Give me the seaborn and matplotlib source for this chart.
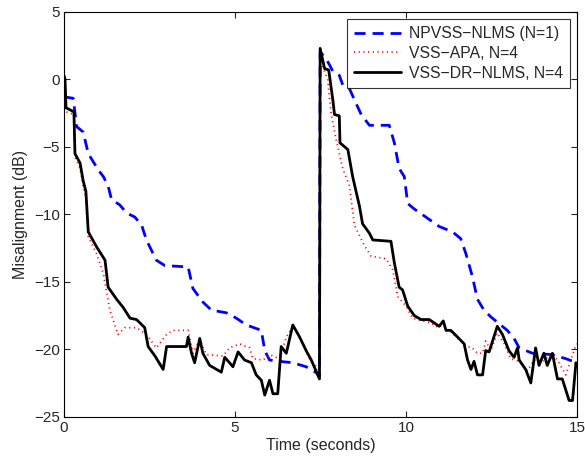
import numpy as np
import pandas as pd
import seaborn as sns
import matplotlib.pyplot as plt

# values (time in s, misalignment in dB)
npvss_t = [0.0, 0.03, 0.27, 0.37, 0.56, 0.71, 1.0, 1.15, 1.29, 1.39, 1.63, 1.83, 2.07, 2.27, 2.41,
           2.70, 2.95, 3.63, 3.77, 4.06, 4.31, 4.75, 5.04, 5.33, 5.77, 5.87, 6.01, 6.30, 6.69, 7.08,
           7.42, 7.47, 7.49, 7.62, 7.76, 7.86, 8.05, 8.15, 8.35, 8.49, 8.69, 8.93, 9.51, 9.66, 9.80,
           9.95, 10.05, 10.24, 10.58, 10.97, 11.36, 11.60, 11.75, 11.94, 12.09, 12.28, 12.48, 12.72,
           12.96, 13.16, 13.31, 13.70, 14.28, 14.67, 15.0]
npvss_db = [-1.2, -1.3, -1.4, -3.5, -3.9, -5.5, -6.7, -7.2, -7.9, -8.9, -9.3, -9.9, -10.2, -10.8, -11.9,
            -13.4, -13.8, -13.9, -15.5, -16.5, -17.1, -17.3, -17.7, -18.2, -18.6, -20.1, -20.8, -20.9,
            -21.0, -21.3, -21.8, -22.0, 2.0, 1.7, 1.1, 0.6, 0.3, -0.4, -0.7, -1.5, -2.6, -3.4, -3.4, -4.7,
            -6.6, -7.2, -9.2, -9.6, -10.2, -10.9, -11.3, -11.8, -12.9, -14.6, -16.3, -17.1, -17.6, -18.1,
            -18.6, -19.2, -19.9, -20.3, -20.4, -20.7, -21.0]

apa_t = [0.0, 0.06, 0.30, 0.33, 0.47, 0.56, 0.64, 0.71, 0.95, 1.15, 1.34, 1.58, 1.78, 2.12, 2.41,
         2.70, 3.0, 3.19, 3.63, 3.77, 3.97, 4.16, 4.65, 4.84, 5.14, 5.43, 5.52, 5.82, 6.01, 6.30,
         6.50, 6.69, 6.94, 7.18, 7.42, 7.47, 7.49, 7.57, 7.71, 7.81, 7.96, 8.15, 8.35, 8.49, 8.78,
         8.98, 9.42, 9.61, 9.76, 10.0, 10.19, 10.49, 10.68, 10.97, 11.09, 11.17, 11.31, 11.51, 11.70,
         11.80, 11.94, 12.09, 12.24, 12.33, 12.48, 12.67, 12.87, 13.06, 13.31, 13.55, 13.74, 13.94,
         14.28, 14.47, 14.67, 14.81, 14.94, 15.0]
apa_db = [0.0, -2.4, -2.6, -5.8, -6.6, -7.9, -8.8, -11.7, -12.9, -14.4, -17.1, -18.9, -18.4, -18.4,
          -18.9, -19.9, -18.9, -18.6, -18.6, -20.3, -19.3, -20.4, -20.5, -19.9, -19.6, -19.9, -20.7,
          -20.8, -20.4, -20.7, -19.1, -18.3, -19.3, -20.7, -21.4, -21.6, 2.3, 0.9, 0.0, -2.5, -4.5,
          -6.6, -7.9, -10.8, -12.3, -13.1, -13.3, -14.1, -16.1, -16.8, -17.7, -17.9, -18.0, -18.4,
          -18.0, -18.6, -18.7, -19.2, -19.6, -19.8, -19.9, -20.3, -20.3, -19.4, -20.1, -18.8, -19.6,
          -20.7, -20.9, -21.6, -20.8, -21.0, -20.3, -21.0, -21.9, -20.9, -19.9, -19.6]

dr_t = [0.0, 0.03, 0.06, 0.29, 0.32, 0.47, 0.56, 0.64, 0.71, 0.95, 1.20, 1.29, 1.54, 1.73, 1.93,
        2.12, 2.36, 2.46, 2.66, 2.90, 3.0, 3.58, 3.63, 3.73, 3.82, 3.97, 4.06, 4.26, 4.60, 4.70,
        4.84, 4.94, 5.09, 5.28, 5.48, 5.62, 5.77, 5.87, 6.01, 6.11, 6.25, 6.35, 6.50, 6.69, 6.89,
        7.08, 7.23, 7.47, 7.49, 7.62, 7.74, 7.86, 7.91, 8.05, 8.07, 8.30, 8.44, 8.64, 8.73, 8.93,
        9.03, 9.56, 9.66, 9.80, 9.90, 10.05, 10.24, 10.44, 10.68, 10.97, 11.09, 11.17, 11.31, 11.51,
        11.70, 11.80, 11.90, 11.99, 12.09, 12.24, 12.33, 12.43, 12.67, 12.82, 13.01, 13.16, 13.26,
        13.31, 13.50, 13.65, 13.79, 13.89, 14.03, 14.13, 14.28, 14.43, 14.57, 14.77, 14.87, 14.97, 15.0]
dr_db = [0.3, 0.0, -2.1, -2.4, -5.5, -6.2, -7.5, -8.3, -11.3, -12.4, -13.4, -15.4, -16.3, -16.9,
         -17.7, -17.8, -18.4, -19.8, -20.5, -21.5, -19.8, -19.8, -19.1, -20.3, -21.0, -19.2, -20.3,
         -21.2, -21.7, -20.6, -21.0, -21.3, -20.2, -20.8, -21.0, -21.9, -22.3, -23.4, -22.3, -23.3,
         -23.3, -19.8, -20.3, -18.2, -19.1, -20.1, -20.8, -22.2, 2.3, 0.8, 0.7, -1.5, -2.6, -2.7,
         -4.7, -5.2, -7.2, -9.4, -10.7, -11.4, -11.9, -12.0, -13.6, -15.4, -15.6, -16.8, -17.5, -17.8,
         -17.8, -18.3, -17.9, -18.6, -18.6, -19.1, -19.6, -20.8, -21.5, -20.9, -21.9, -21.9, -20.1,
         -20.2, -18.3, -18.9, -20.1, -20.6, -19.9, -20.8, -21.5, -22.5, -19.9, -21.2, -20.3, -21.2,
         -20.3, -22.2, -22.2, -23.8, -23.8, -21.0, -21.3]

labels = ["NPVSS\u2212NLMS (N=1)", "VSS\u2212APA, N=4", "VSS\u2212DR\u2212NLMS, N=4"]

sns.set_style("ticks")
plt.rcParams['font.family'] = ['Liberation Sans', 'DejaVu Sans']

fig = plt.figure(figsize=(5.85, 4.59), dpi=100)
ax = fig.add_axes([0.1094, 0.0922, 0.8769, 0.8817])

sns.lineplot(x=npvss_t, y=npvss_db, ax=ax, color='#0000ff', lw=2, dashes=False,
             linestyle=(0, (4, 2.5)), label=labels[0], sort=False, estimator=None)
sns.lineplot(x=apa_t, y=apa_db, ax=ax, color='#ff0000', lw=1.3,
             linestyle=(0, (0.6, 2)), label=labels[1], sort=False, estimator=None)
sns.lineplot(x=dr_t, y=dr_db, ax=ax, color='black', lw=2, label=labels[2],
             sort=False, estimator=None)

ax.set_xlim(0, 15)
ax.set_ylim(-25, 5)
ax.set_xticks([0, 5, 10, 15])
ax.set_yticks([-25, -20, -15, -10, -5, 0, 5])
ax.tick_params(direction='in', top=True, right=True, labelsize=11, length=4, width=0.8, pad=3)
for s in ax.spines.values():
    s.set_linewidth(0.8)
    s.set_color('black')
ax.set_xlabel("Time (seconds)", fontsize=11.5, labelpad=2)
ax.set_ylabel("Misalignment (dB)", fontsize=11.5, labelpad=4)

leg = ax.legend(loc='upper right', fontsize=11.3, frameon=True, fancybox=False,
                borderaxespad=0.45, handlelength=3.0, handletextpad=0.5,
                borderpad=0.45, labelspacing=0.3)
leg.get_frame().set_edgecolor('black')
leg.get_frame().set_linewidth(0.8)

fig.savefig("out.png", dpi=100)
